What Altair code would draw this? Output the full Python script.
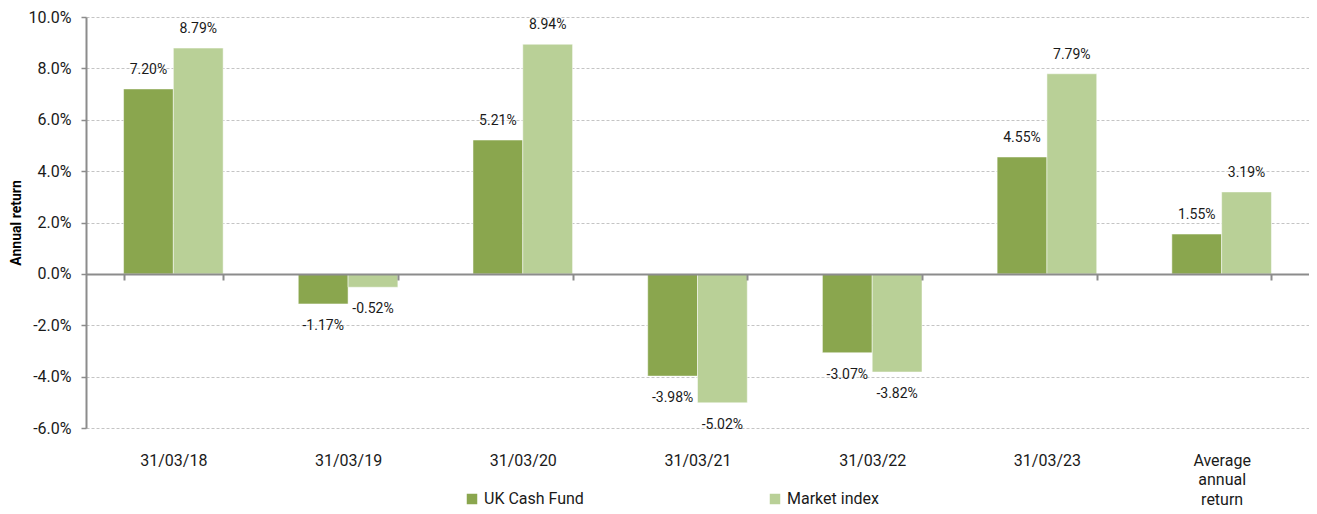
import altair as alt
import pandas as pd

categories = ["31/03/18", "31/03/19", "31/03/20", "31/03/21", "31/03/22", "31/03/23", "Average annual return"]
series = ["UK Cash Fund", "Market index"]
fund = [7.20, -1.17, 5.21, -3.98, -3.07, 4.55, 1.55]
market = [8.79, -0.52, 8.94, -5.02, -3.82, 7.79, 3.19]
colors = ["#8AA64E", "#B9D097"]

rows = []
for c, f, m in zip(categories, fund, market):
    rows.append({"cat": c, "series": series[0], "value": f, "label": f"{f:.2f}%"})
    rows.append({"cat": c, "series": series[1], "value": m, "label": f"{m:.2f}%"})
df = pd.DataFrame(rows)

FONT = "Roboto"
TXT = "#1a1a1a"

x = alt.X(
    "cat:N",
    sort=categories,
    scale=alt.Scale(paddingInner=0.43, paddingOuter=0.215),
    axis=alt.Axis(
        title=None,
        orient="bottom",
        offset=-154,
        labelAngle=0,
        labelPadding=172,
        labelFontSize=16,
        labelColor=TXT,
        labelFont=FONT,
        labelLineHeight=19.5,
        labelBaseline="top",
        labelExpr="datum.label == 'Average annual return' ? ['Average', 'annual', 'return'] : datum.label",
        domainColor="#8c8c8c",
        domainWidth=2,
        tickColor="#8c8c8c",
        tickWidth=2,
        tickSize=6,
        tickBand="extent",
        zindex=1,
    ),
)
y = alt.Y(
    "value:Q",
    scale=alt.Scale(domain=[-6, 10], nice=False, zero=False),
    axis=alt.Axis(
        title="Annual return",
        titleFont=FONT,
        titleFontSize=14,
        titleFontWeight="bold",
        titleColor="#000000",
        titlePadding=5,
        values=[-6, -4, -2, 0, 2, 4, 6, 8, 10],
        labelExpr="replace(format(datum.value, '.1f'), '\u2212', '-') + '%'",
        labelFont=FONT,
        labelFontSize=16,
        labelColor=TXT,
        labelPadding=10,
        domainColor="#8c8c8c",
        domainWidth=2,
        tickColor="#8c8c8c",
        tickWidth=1.5,
        tickSize=5,
        grid=True,
        gridColor="#c4c4c4",
        gridDash=[3, 2],
        gridWidth=1,
    ),
)

color = alt.Color(
    "series:N",
    sort=series,
    scale=alt.Scale(domain=series, range=colors),
    legend=alt.Legend(
        title=None,
        orient="none",
        legendX=378,
        legendY=474,
        direction="horizontal",
        columns=2,
        columnPadding=183,
        symbolType="square",
        symbolSize=110,
        symbolStrokeWidth=0,
        labelFont=FONT,
        labelFontSize=16,
        labelColor=TXT,
        labelOffset=4,
    ),
)

xoff = alt.XOffset("series:N", sort=series, scale=alt.Scale(paddingInner=0))

base = alt.Chart(df)
bars = base.mark_bar(stroke="white", strokeWidth=0.5).encode(x=x, y=y, color=color, xOffset=xoff)

pos = base.transform_filter("datum.value >= 0").mark_text(
    dy=-19, baseline="middle", align="center", font=FONT, fontSize=14, color=TXT
).encode(x=x, y=y, xOffset=xoff, text="label:N")
neg = base.transform_filter("datum.value < 0").mark_text(
    dy=22, baseline="middle", align="center", font=FONT, fontSize=14, color=TXT
).encode(x=x, y=y, xOffset=xoff, text="label:N")

chart = alt.layer(bars, pos, neg).properties(
    width=1223,
    height=411,
    autosize=alt.AutoSizeParams(type="none"),
    padding={"left": 78, "top": 9, "right": 0, "bottom": 80},
).configure_view(stroke=None).configure_axisX(grid=False)

chart.save("out.html", embed_options={"renderer": "svg", "actions": False})
